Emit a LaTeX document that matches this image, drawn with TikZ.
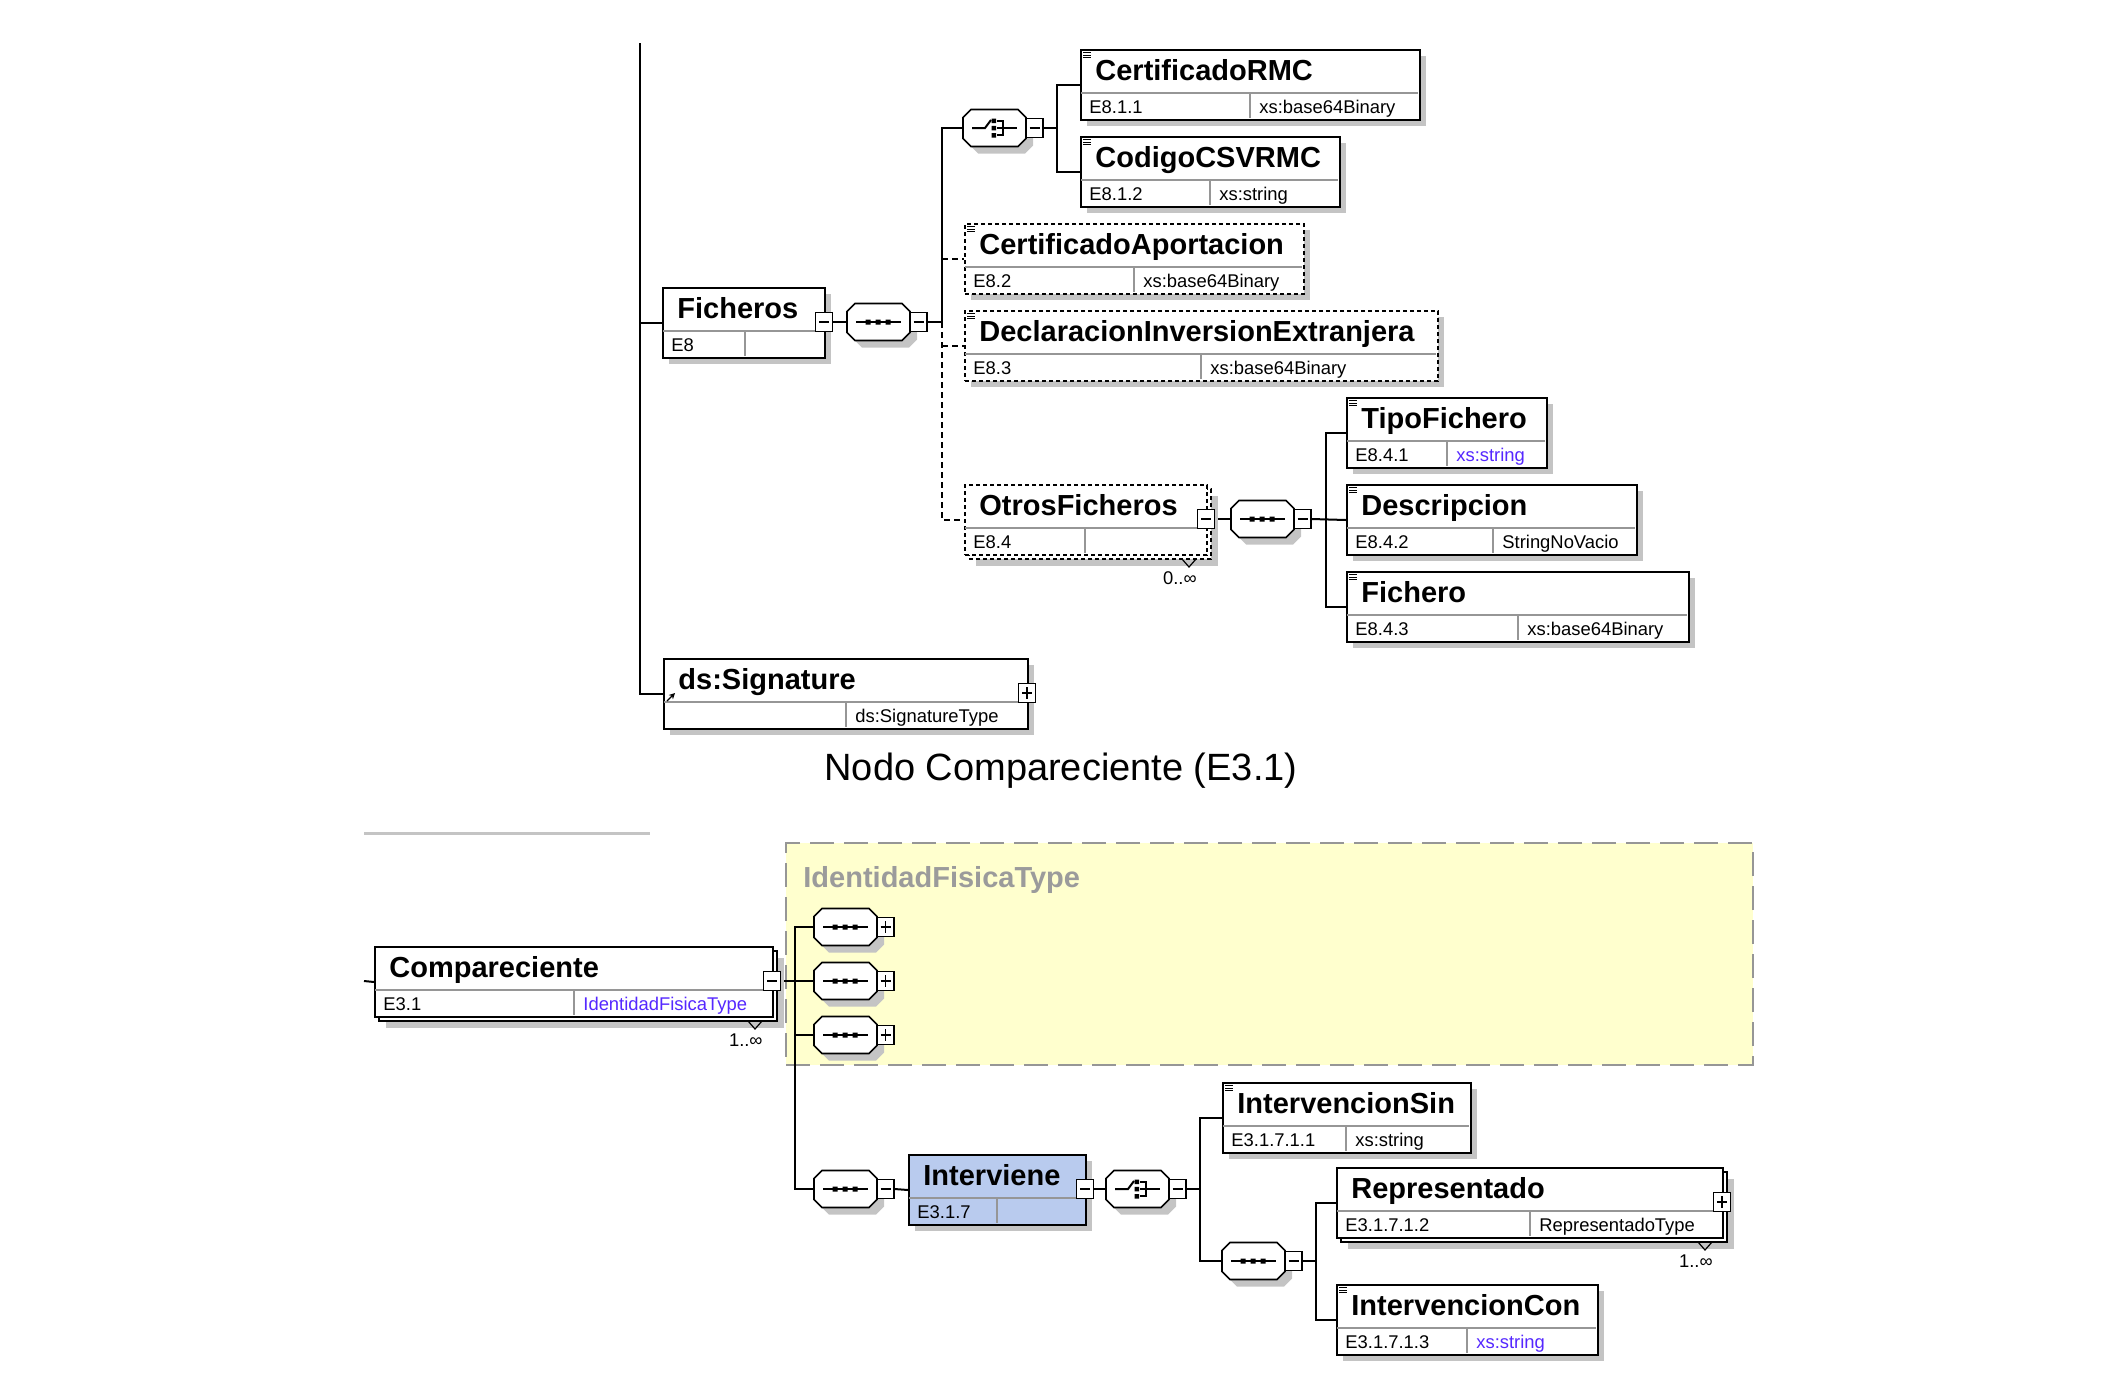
\documentclass[tikz,border=0pt]{standalone}
\usepackage{fontspec}
\setmainfont{Liberation Sans}
\usetikzlibrary{arrows.meta}
\definecolor{shadowc}{RGB}{196,196,196}
\definecolor{divc}{RGB}{150,150,150}
\definecolor{typeblue}{RGB}{85,40,255}
\definecolor{intblue}{RGB}{185,203,238}
\definecolor{yelfill}{RGB}{255,255,206}
\definecolor{yelborder}{RGB}{150,150,150}
\definecolor{grayname}{RGB}{155,155,155}
\pgfdeclarelayer{back}
\pgfdeclarelayer{bg}
\pgfsetlayers{back,bg,main}
\newif\ifstk
\tikzset{
 conn/.style={line width=1pt, draw=black},
 optconn/.style={line width=1pt, draw=black, dash pattern=on 3pt off 2pt},
 elbox/.style={draw=black, line width=1pt, fill=white, inner sep=0pt, rectangle},
 optbox/.style={dash pattern=on 2pt off 1.5pt},
 divl/.style={draw=divc, line width=0.6pt},
 ttl/.style={font=\fontsize{14.5}{16}\selectfont\bfseries, inner sep=0pt, anchor=base west},
 sml/.style={font=\fontsize{9.2}{11}\selectfont, inner sep=0pt, anchor=base west},
 pmbox/.style={draw=black, line width=0.6pt, fill=white, minimum width=8.5pt, minimum height=9.5pt, inner sep=0pt},
 compo/.style={draw=black, line width=0.8pt, fill=white},
 cnode/.style={inner sep=0pt, minimum width=31.5pt, minimum height=18.5pt},
}
% element box: [style] name x y w split title id type
\newcommand\elem[9][]{%
 \ifstk\def\shoff{12}\else\def\shoff{7}\fi
 \fill[shadowc] (#3+\shoff,#4+\shoff) rectangle (#3+#5+\shoff,#4+70+\shoff);
 \ifstk\draw[elbox,#1] (#3+5,#4+5) rectangle (#3+#5+5,#4+75);\fi
 \node[elbox,#1,anchor=north west,minimum width=#5*0.5pt,minimum height=35pt] (#2) at (#3,#4) {};
 \draw[divl] (#3+1,#4+44) -- (#3+#5-1,#4+44);
 \draw[divl] (#3+#6,#4+44) -- (#3+#6,#4+69);
 \node[ttl] (#2-t) at (#3+15,#4+31) {#7};
 \node[sml] (#2-i) at (#3+9,#4+64) {#8};
 \node[sml] (#2-y) at (#3+#6+9,#4+64) {#9};
}
\newcommand\docic[2]{\draw[line width=0.5pt] (#1+3,#2+3.5) -- (#1+11,#2+3.5) (#1+3,#2+6) -- (#1+11,#2+6) (#1+3,#2+8.5) -- (#1+11,#2+8.5);}
\newcommand\minusb[3]{\node[pmbox] (#1) at (#2,#3) {}; \draw[line width=0.6pt] (#2-5,#3) -- (#2+5,#3);}
\newcommand\plusb[3]{\minusb{#1}{#2}{#3}\draw[line width=0.6pt] (#2,#3-6) -- (#2,#3+6);}
\newcommand\pmsel[4]{\if#4p\plusb{#1}{#2}{#3}\else\minusb{#1}{#2}{#3}\fi}
\newcommand\octo{%
  \fill[shadowc,shift={(7,7)}] (8,-18.5) -- (55,-18.5) -- (63,-10.5) -- (63,10.5) -- (55,18.5) -- (8,18.5) -- (0,10.5) -- (0,-10.5) -- cycle;
  \draw[compo] (8,-18.5) -- (55,-18.5) -- (63,-10.5) -- (63,10.5) -- (55,18.5) -- (8,18.5) -- (0,10.5) -- (0,-10.5) -- cycle;}
\newcommand\seqc[4]{%
 \begin{scope}[shift={(#2,#3)}]
  \octo
  \draw[line width=1pt] (9,0) -- (54,0);
  \fill (18.5,-2.5) rectangle ++(5,5) (28.5,-2.5) rectangle ++(5,5) (38.5,-2.5) rectangle ++(5,5);
  \node[cnode] (#1) at (31.5,0) {};
 \end{scope}
 \pmsel{#1-pm}{#2+71.5}{#3}{#4}}
\newcommand\choc[4]{%
 \begin{scope}[shift={(#2,#3)}]
  \octo
  \draw[line width=1pt] (9,0) -- (22,0) -- (28,-8);
  \fill (28.5,-9.5) rectangle ++(4.5,4.5) (28.5,-2.25) rectangle ++(4.5,4.5) (28.5,5) rectangle ++(4.5,4.5);
  \draw[line width=1pt] (34,-7.25) -- (40,-7.25) -- (40,7.25) -- (34,7.25) (34,0) -- (54,0);
  \node[cnode] (#1) at (31.5,0) {};
 \end{scope}
 \pmsel{#1-pm}{#2+71.5}{#3}{#4}}
% multiplicity: name, stacked right x, stacked bottom y, text
\newcommand\mult[4]{%
 \draw[line width=0.6pt] (#2-29,#3) -- (#2-22,#3+8) -- (#2-15,#3);
 \node[sml,anchor=east] (#1) at (#2-14,#3+19) {#4};}
\begin{document}
\begin{tikzpicture}[x=0.5pt,y=-0.5pt]
\useasboundingbox (0,0) rectangle (2126,1388);

% ---------- upper diagram ----------
\coordinate (mtop) at (640,43);
\elem{Ficheros}{662}{287}{162}{83}{Ficheros}{E8}{}
\minusb{Ficheros-pm}{824}{322}
\elem{sig}{663}{658}{364}{183}{ds:Signature}{}{ds:SignatureType}
\plusb{sig-pm}{1027}{693}
\draw[line width=0.6pt,-{Stealth[length=3pt,width=3pt]}] (667,701) -- (675,693);

\seqc{seqF}{847}{322}{m}
\choc{choiceF}{963}{128}{m}

\elem{CertRMC}{1080}{49}{339}{170}{CertificadoRMC}{E8.1.1}{xs:base64Binary}
\docic{1080}{49}
\elem{CodCSV}{1080}{136}{259}{130}{CodigoCSVRMC}{E8.1.2}{xs:string}
\docic{1080}{136}
\elem[optbox]{CertAp}{964}{223}{339}{170}{CertificadoAportacion}{E8.2}{xs:base64Binary}
\docic{964}{223}
\elem[optbox]{Decl}{964}{310}{473}{237}{DeclaracionInversionExtranjera}{E8.3}{xs:base64Binary}
\docic{964}{310}
\stktrue
\elem[optbox]{Otros}{964}{484}{242}{121}{OtrosFicheros}{E8.4}{}
\stkfalse
\minusb{Otros-pm}{1206}{519}
\mult{Otros-m}{1211}{559}{0..∞}
\seqc{seqO}{1231}{519}{m}

\elem{Tipo}{1346}{397}{200}{101}{TipoFichero}{E8.4.1}{\textcolor{typeblue}{xs:string}}
\docic{1346}{397}
\elem{Desc}{1346}{484}{290}{147}{Descripcion}{E8.4.2}{StringNoVacio}
\docic{1346}{484}
\elem{Fich}{1346}{571}{342}{172}{Fichero}{E8.4.3}{xs:base64Binary}
\docic{1346}{571}

\node[font=\fontsize{19}{22}\selectfont, inner sep=0pt, anchor=base] (cap) at (1061,780) {Nodo Compareciente (E3.1)};

% ---------- lower diagram ----------
\coordinate (g1) at (364,833);
\coordinate (g2) at (650,833);
\draw[line width=1.5pt, draw=shadowc] (g1) -- (g2);

\begin{pgfonlayer}{back}
\node[draw=yelborder, fill=yelfill, dash pattern=on 12pt off 5pt, line width=1pt, anchor=north west, minimum width=483.5pt, minimum height=111pt, inner sep=0pt] (ytype) at (785,842) {};
\end{pgfonlayer}
\node[ttl, text=grayname] (ytype-t) at (803,887) {IdentidadFisicaType};

\coordinate (cstub) at (364,981);
\stktrue
\elem{Comp}{374}{946}{398}{200}{Compareciente}{E3.1}{\textcolor{typeblue}{IdentidadFisicaType}}
\stkfalse
\minusb{Comp-pm}{772}{981}
\mult{Comp-m}{777}{1021}{1..∞}

\seqc{seqY1}{814}{927}{p}
\seqc{seqY2}{814}{981}{p}
\seqc{seqY3}{814}{1035}{p}
\seqc{seqI}{814}{1189}{m}

\elem[fill=intblue]{Interv}{908}{1154}{177}{89}{Interviene}{E3.1.7}{}
\minusb{Interv-pm}{1085}{1189}
\choc{choiceI}{1106}{1189}{m}

\elem{ISin}{1222}{1082}{248}{124}{IntervencionSin}{E3.1.7.1.1}{xs:string}
\docic{1222}{1082}
\seqc{seqR}{1222}{1261}{m}
\stktrue
\elem{Repr}{1336}{1167}{386}{194}{Representado}{E3.1.7.1.2}{RepresentadoType}
\stkfalse
\plusb{Repr-pm}{1722}{1202}
\mult{Repr-m}{1727}{1242}{1..∞}
\elem{ICon}{1336}{1284}{261}{131}{IntervencionCon}{E3.1.7.1.3}{\textcolor{typeblue}{xs:string}}
\docic{1336}{1284}

% ---------- connectors ----------
\begin{pgfonlayer}{bg}
\draw[conn] (mtop) |- (sig.west);
\draw[conn] (mtop |- Ficheros.west) -- (Ficheros.west);
\draw[conn] (Ficheros-pm.east) -- (seqF.west);
\coordinate (busF) at (942,322);
\draw[conn] (seqF-pm.east) -- (busF);
\draw[conn] (busF) -- (busF |- choiceF.west) -- (choiceF.west);
\draw[optconn] (busF |- CertAp.west) -- (CertAp.west);
\draw[optconn] (busF) -- (busF |- Otros.west) -- (Otros.west);
\draw[optconn] (busF |- Decl.west) -- (Decl.west);
\coordinate (busC) at (1057,128);
\draw[conn] (choiceF-pm.east) -- (busC);
\draw[conn] (CertRMC.west) -| (busC) |- (CodCSV.west);
\draw[conn] (Otros-pm.east) -- (seqO.west);
\coordinate (busO) at (1326,519);
\draw[conn] (seqO-pm.east) -- (Desc.west);
\draw[conn] (Tipo.west) -| (busO) |- (Fich.west);

\draw[conn] (cstub) -- (Comp.west);
\coordinate (busA) at (795,981);
\draw[conn] (Comp-pm.east) -- (seqY2.west);
\draw[conn] (seqY1.west) -| (busA) |- (seqI.west);
\draw[conn] (busA |- seqY3.west) -- (seqY3.west);
\draw[conn] (seqI-pm.east) -- (Interv.west);
\draw[conn] (Interv-pm.east) -- (choiceI.west);
\coordinate (busB) at (1200,1189);
\draw[conn] (choiceI-pm.east) -- (busB);
\draw[conn] (ISin.west) -| (busB) |- (seqR.west);
\coordinate (busR) at (1316,1261);
\draw[conn] (seqR-pm.east) -- (busR);
\draw[conn] (Repr.west) -| (busR) |- (ICon.west);
\end{pgfonlayer}
\end{tikzpicture}
\end{document}
